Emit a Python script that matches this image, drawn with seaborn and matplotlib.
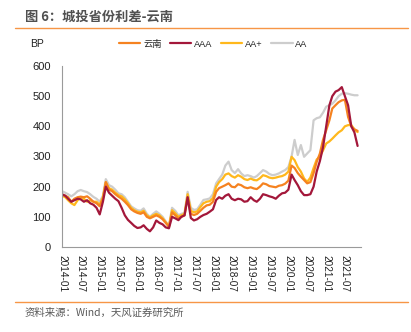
import numpy as np
import pandas as pd
import matplotlib
matplotlib.use("Agg")
import matplotlib.pyplot as plt
import matplotlib.dates as mdates
import seaborn as sns

sns.set_style("white")
plt.rcParams['font.family'] = ['Liberation Sans', 'Noto Sans CJK SC', 'DejaVu Sans']

dates = pd.date_range("2014-01-01", "2021-11-01", freq="MS")

yunnan = [172, 170, 165, 150, 160, 165, 167, 165, 168, 160, 150, 145,
          135, 160, 215, 190, 185, 175, 167, 160, 150, 139, 125, 118,
          113, 110, 115, 100, 95, 100, 105, 100, 92, 80, 67, 115,
          105, 95, 100, 105, 165, 110, 106, 110, 120, 130, 138, 140,
          150, 183, 195, 200, 205, 211, 200, 198, 208, 205, 198, 195,
          198, 194, 192, 200, 211, 208, 202, 200, 198, 203, 205, 210,
          220, 270, 262, 245, 233, 222, 211, 215, 245, 282, 310, 355,
          387, 420, 459, 470, 480, 486, 488, 431, 400, 390, 385]
aaa = [175, 170, 160, 150, 155, 160, 158, 150, 155, 145, 140, 130,
       108, 150, 200, 180, 170, 160, 152, 130, 105, 90, 80, 70,
       63, 65, 72, 60, 52, 65, 88, 80, 75, 65, 62, 100,
       95, 89, 100, 105, 165, 96, 88, 92, 100, 106, 110, 117,
       125, 156, 165, 160, 170, 175, 160, 155, 160, 158, 150, 152,
       165, 155, 150, 160, 175, 172, 168, 165, 160, 170, 178, 180,
       190, 240, 222, 205, 185, 172, 172, 175, 200, 250, 285, 330,
       400, 470, 500, 515, 520, 530, 500, 470, 400, 380, 335]
aa_plus = [170, 165, 155, 145, 139, 155, 165, 160, 150, 155, 150, 150,
           140, 165, 215, 195, 190, 180, 172, 168, 158, 145, 130, 122,
           117, 115, 120, 105, 98, 105, 110, 105, 95, 82, 68, 122,
           112, 100, 105, 110, 175, 120, 115, 118, 132, 145, 150, 152,
           162, 200, 215, 225, 240, 244, 235, 230, 238, 233, 225, 222,
           227, 222, 221, 228, 238, 235, 230, 228, 230, 233, 235, 240,
           250, 299, 288, 265, 250, 227, 216, 230, 262, 290, 300, 320,
           343, 350, 359, 370, 380, 387, 400, 404, 404, 390, 381]
aa = [185, 180, 175, 168, 175, 185, 189, 185, 182, 175, 166, 160,
      150, 170, 225, 205, 200, 190, 178, 175, 165, 150, 135, 128,
      122, 120, 128, 110, 100, 110, 118, 110, 100, 85, 70, 130,
      120, 105, 110, 113, 183, 130, 123, 125, 140, 156, 158, 161,
      175, 211, 225, 240, 270, 283, 255, 245, 258, 244, 235, 238,
      235, 230, 235, 245, 255, 250, 242, 238, 240, 244, 250, 255,
      265, 300, 355, 305, 338, 299, 310, 321, 420, 427, 430, 445,
      465, 470, 475, 486, 500, 508, 510, 508, 505, 503, 503]

series_names = ["云南", "AAA", "AA+", "AA"]
colors = ["#F58220", "#A3173A", "#FFB81C", "#CDCDCD"]
ytick_vals = [0, 100, 200, 300, 400, 500, 600]
xtick_labels = ["2014-01", "2014-07", "2015-01", "2015-07", "2016-01", "2016-07",
                "2017-01", "2017-07", "2018-01", "2018-07", "2019-01", "2019-07",
                "2020-01", "2020-07", "2021-01", "2021-07"]

frames = []
for name, vals in zip(series_names, [yunnan, aaa, aa_plus, aa]):
    frames.append(pd.DataFrame({"date": dates, "value": vals, "series": name}))
df = pd.concat(frames, ignore_index=True)

W, H = 411, 332
fig = plt.figure(figsize=(W / 100, H / 100), dpi=100)
left, right, top, bottom = 62, 360.7, 66, 247
ax = fig.add_axes([left / W, 1 - bottom / H, (right - left) / W, (bottom - top) / H])

order = ["AA", "AA+", "云南", "AAA"]
pal = dict(zip(series_names, colors))
for name in order:
    sub = df[df["series"] == name]
    sns.lineplot(data=sub, x="date", y="value", color=pal[name], lw=1.6, ax=ax,
                 legend=False)

ax.set_xlim(pd.Timestamp("2014-01-01"), pd.Timestamp("2021-12-01"))
ax.set_ylim(0, 600)
ax.set_yticks(ytick_vals)
ax.set_yticklabels([str(v) for v in ytick_vals], fontsize=8, color="#222222")
xt = [pd.Timestamp(s + "-01") for s in xtick_labels]
ax.set_xticks(xt)
ax.set_xticklabels(xtick_labels, rotation=-90, fontsize=7.2, color="#222222")
ax.set_xlabel("")
ax.set_ylabel("")
for s in ["top", "right"]:
    ax.spines[s].set_visible(False)
for s in ["left", "bottom"]:
    ax.spines[s].set_color("#9A9A9A")
    ax.spines[s].set_linewidth(0.8)
ax.tick_params(axis="y", direction="out", length=3, width=0.8, color="#9A9A9A", pad=5)
ax.tick_params(axis="x", direction="out", length=4, width=0.8, color="#9A9A9A", pad=2)
ax.grid(False)

handles = [plt.Line2D([], [], color=c, lw=1.6) for c in colors]
fig.legend(handles, series_names, loc="center left",
           bbox_to_anchor=(119 / W, 1 - 44 / H), ncol=4, frameon=False,
           fontsize=6.7, handlelength=2.3, handletextpad=0.3, columnspacing=0.9,
           borderaxespad=0, borderpad=0)

fig.text(30 / W, 1 - 44 / H, "BP", fontsize=7.5, color="#222222", va="center")

fig.text(25 / W, 1 - 17 / H, "图 6：城投省份利差-云南", fontsize=9.5, fontweight="bold",
         color="#505050", va="center", family=["Noto Sans CJK SC", "DejaVu Sans"])
fig.add_artist(plt.Line2D([15 / W, 408 / W], [1 - 28 / H, 1 - 28 / H],
                          color="#F79646", lw=1.0))
fig.add_artist(plt.Line2D([15 / W, 408 / W], [1 - 302 / H, 1 - 302 / H],
                          color="#F79646", lw=1.0))
fig.text(25 / W, 1 - 313 / H, "资料来源：Wind，天风证券研究所", fontsize=7.5,
         color="#595959", va="center", family=["Noto Sans CJK SC", "DejaVu Sans"])

fig.savefig("out.png", dpi=100)
